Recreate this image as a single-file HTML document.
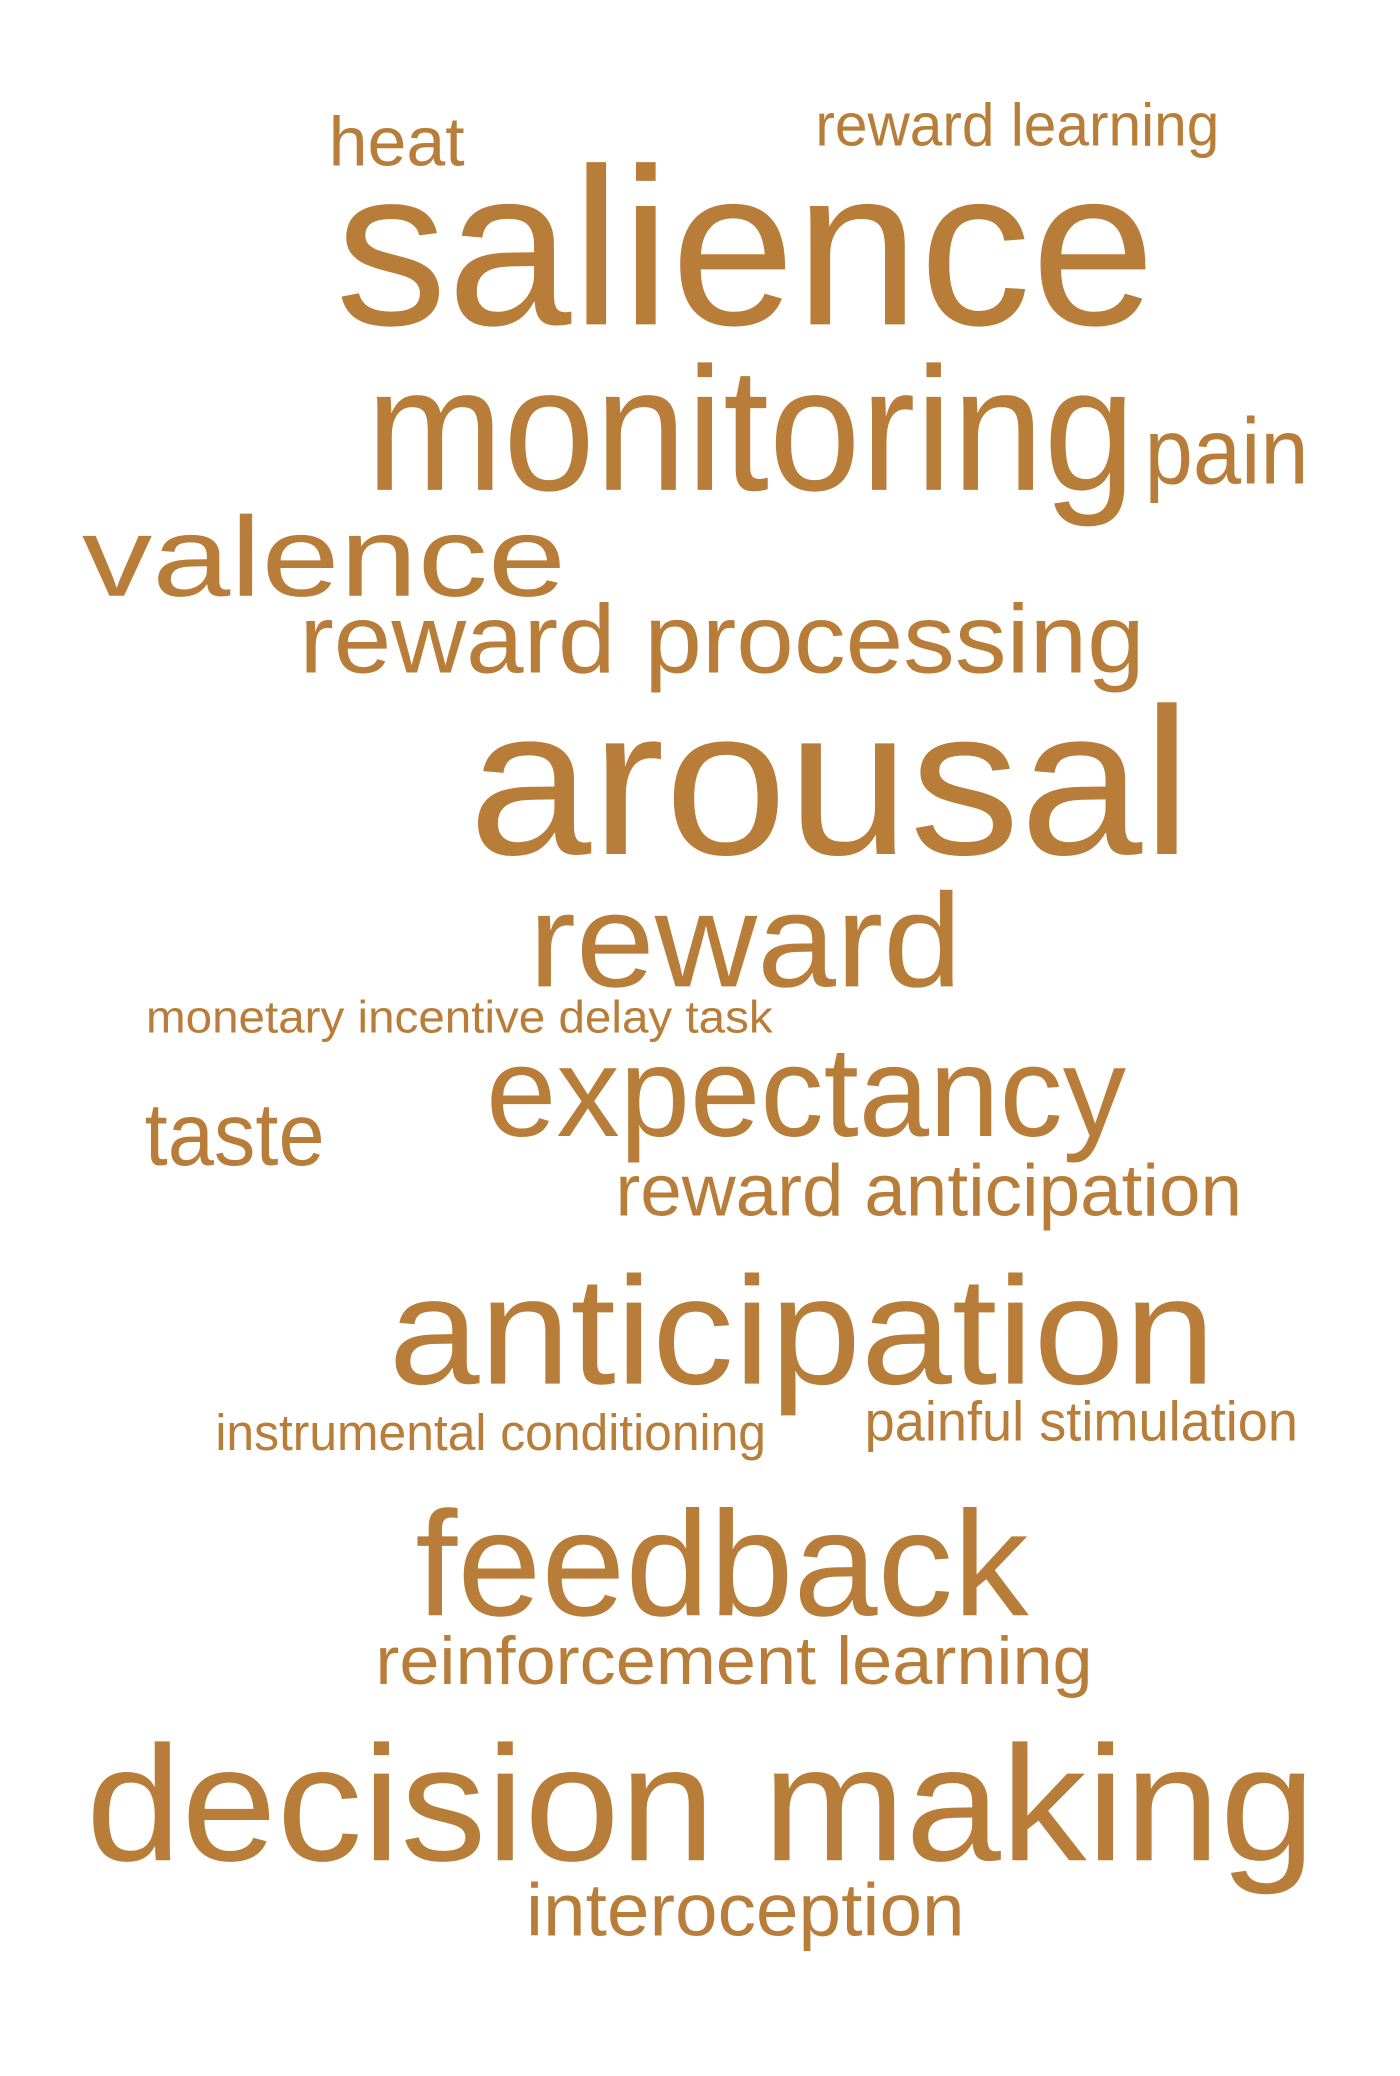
<!DOCTYPE html>
<html>
<head>
<meta charset="utf-8">
<style>
html,body{margin:0;padding:0;background:#fff;}
svg{display:block;}
text{font-family:"Liberation Sans",Arial,sans-serif;fill:#B97D3A;}
</style>
</head>
<body>
<svg width="1400" height="2076" viewBox="0 0 1400 2076">
<script>
const S=1400/1050;
const words=["heat","reward learning","salience","monitoring","pain","valence","reward processing","arousal","reward","monetary incentive delay task","expectancy","taste","reward anticipation","anticipation","instrumental conditioning","painful stimulation","feedback","reinforcement learning","decision making","interoception"];
const sizes=[52,45,168,132,70,85,73,157,100,34,96,67,55,115,38,42,112,51,123,56];
const lefts=[250,615,255,278,862,65,228,355,400,113,368,112,465,295,165,652,315,285,68,398];
const rights=[352,918,870,855,985,428,862,897,725,583,848,247,935,915,578,977,775,823,990,727];
const baselines=[125,110,245,370,365,450,508,645,745,780,858,880,918,1045,1095,1088,1220,1272,1405,1462];
const svg=document.currentScript.parentNode;
words.forEach((w,i)=>{
  const t=document.createElementNS("http://www.w3.org/2000/svg","text");
  t.setAttribute("x",(lefts[i]-3.5)*S);
  t.setAttribute("y",baselines[i]*0.993*S);
  t.setAttribute("font-size",sizes[i]*S);
  t.setAttribute("textLength",(rights[i]-lefts[i])*S);
  t.setAttribute("lengthAdjust","spacingAndGlyphs");
  t.textContent=w;
  
  
  svg.appendChild(t);
});
</script>
</svg>
</body>
</html>
